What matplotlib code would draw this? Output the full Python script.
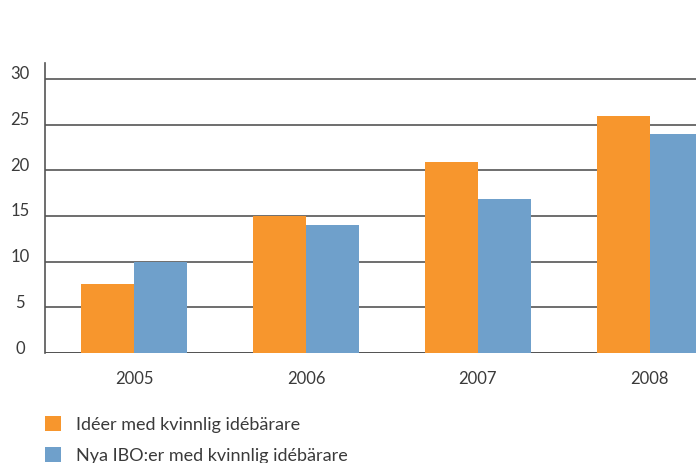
import matplotlib
matplotlib.use('Agg')
import matplotlib.pyplot as plt
import matplotlib.transforms as mtransforms
from matplotlib.patches import Patch
import numpy as np

# data
years = ['2005', '2006', '2007', '2008']
ideer = [7.5, 15, 20.9, 26]
nya_ibo = [10, 14, 16.9, 24]
series_names = ['Idéer med kvinnlig idébärare', 'Nya IBO:er med kvinnlig idébärare']
yticks = [0, 5, 10, 15, 20, 25, 30]

orange = '#F7962D'
blue = '#6FA0CB'
txt = '#3a3a3a'

plt.rcParams['font.family'] = ['Lato', 'DejaVu Sans']

fig = plt.figure(figsize=(6.96, 4.63), dpi=100)
# axes in pixel layout: left 45, right 696, bottom 353, top 63
ax = fig.add_axes([45/696, (463-353)/463, (696-45)/696, (353-63)/463])

x = np.arange(len(years))
w = 0.309
ax.bar(x - w/2, ideer, width=w, color=orange, zorder=3)
ax.bar(x + w/2, nya_ibo, width=w, color=blue, zorder=3)

ax.set_xlim(-0.52, 3.27)
ax.set_ylim(0, 31.75)

for s in ['top', 'right', 'bottom']:
    ax.spines[s].set_visible(False)
ax.spines['left'].set_color('#555555')
ax.spines['left'].set_linewidth(1.2)

for v in yticks:
    ax.axhline(v, color='#555555' if v else '#333333', lw=1.2, zorder=1)

ax.set_yticks(yticks)
ax.set_yticklabels([str(v) for v in yticks], fontsize=12, color=txt, ha='center')
ax.tick_params(axis='y', length=0, pad=18)
off = mtransforms.ScaledTranslation(0, 0.06, fig.dpi_scale_trans)
for lab in ax.get_yticklabels():
    lab.set_transform(lab.get_transform() + off)

ax.set_xticks(x)
ax.set_xticklabels(years, fontsize=12, color=txt)
ax.tick_params(axis='x', length=0, pad=13)

handles = [Patch(facecolor=orange), Patch(facecolor=blue)]
fig.legend(handles, series_names, loc='upper left',
           bbox_to_anchor=(45/696, (463-416)/463), frameon=False,
           fontsize=13, handlelength=0.9, handleheight=0.9,
           handletextpad=0.8, labelspacing=0.8, borderpad=0,
           borderaxespad=0, labelcolor=txt)

fig.savefig('out.png', dpi=100)
